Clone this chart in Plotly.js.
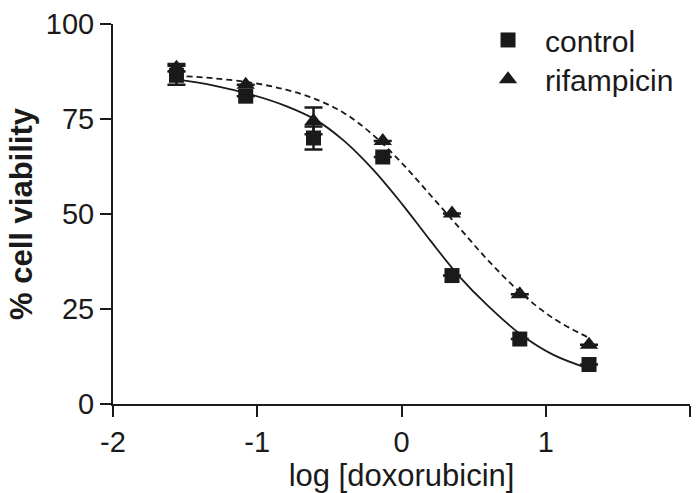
<!DOCTYPE html>
<html>
<head>
<meta charset="utf-8">
<script src="https://cdn.plot.ly/plotly-3.0.1.min.js"></script>
<style>html,body{margin:0;padding:0;background:#fff;}#chart{width:698px;height:493px;}</style>
</head>
<body>
<div id="chart"></div>
<script>
// measured points: log [doxorubicin]
var logDose = [-1.56, -1.08, -0.61, -0.13, 0.35, 0.82, 1.30];
var controlY = [86.5, 81.0, 70.0, 65.0, 33.8, 17.1, 10.4];
var controlErr = [2.5, null, 3.0, null, null, null, null];
var rifampicinY = [88.5, 84.0, 74.5, 69.2, 50.1, 28.9, 15.6];
var rifampicinErr = [1.0, null, 3.5, null, null, null, null];

// fitted curves
var fitX = [-1.56, -1.3, -1.03, -0.8, -0.6, -0.4, -0.2, 0, 0.2, 0.4, 0.6, 0.82, 1.05, 1.30];
var controlFit = [85.4, 83.8, 81.3, 78.4, 74.9, 69.3, 61.8, 52.8, 43.0, 33.6, 25.8, 18.5, 13.0, 9.3];
var rifampicinFit = [86.4, 85.7, 84.5, 82.7, 80.3, 76.6, 70.9, 63.5, 55.0, 46.4, 37.8, 29.5, 22.6, 17.4];

var xTickVals = [-2, -1, 0, 1, 2];
var xTickText = ['-2', '-1', '0', '1', '2'];
var yTickVals = [0, 25, 50, 75, 100];
var yTickText = ['0', '25', '50', '75', '100'];

var FONT = 'Liberation Sans, Arial, Helvetica, sans-serif';
var INK = '#1a1a1a';

var traces = [
  {x: fitX, y: controlFit, mode: 'lines', line: {color: INK, width: 1.8, shape: 'spline', smoothing: 1},
   showlegend: false, hoverinfo: 'skip'},
  {x: fitX, y: rifampicinFit, mode: 'lines', line: {color: INK, width: 1.8, dash: '6px,4px', shape: 'spline', smoothing: 1},
   showlegend: false, hoverinfo: 'skip'},
  {x: logDose, y: controlY, name: 'control', mode: 'markers', legend: 'legend',
   marker: {symbol: 'square', size: 15, color: INK},
   error_y: {type: 'data', array: controlErr, visible: true, color: INK, thickness: 2.5, width: 9},
   cliponaxis: false},
  {x: logDose, y: rifampicinY, name: 'rifampicin', mode: 'markers', legend: 'legend2',
   marker: {symbol: 'triangle-up', size: 16, color: INK},
   error_y: {type: 'data', array: rifampicinErr, visible: true, color: INK, thickness: 2.5, width: 9},
   cliponaxis: false}
];

var legendStyle = function (yPos) {
  return {
    x: 0.6205, y: yPos, xanchor: 'left', yanchor: 'middle',
    itemwidth: 64,
    font: {family: FONT, size: 30, color: INK},
    bgcolor: 'rgba(0,0,0,0)'
  };
};

var layout = {
  width: 698, height: 493,
  margin: {l: 113, r: 8, t: 24, b: 89},
  paper_bgcolor: '#fff', plot_bgcolor: '#fff',
  font: {family: FONT, color: INK, size: 20},
  xaxis: {
    range: [-2, 2], tickvals: xTickVals, ticktext: xTickText,
    showline: true, linecolor: INK, linewidth: 2,
    ticks: 'outside', ticklen: 11, tickwidth: 2, tickcolor: INK,
    showgrid: false, zeroline: false,
    tickfont: {family: FONT, size: 29, color: INK},
    title: {text: 'log [doxorubicin]', font: {family: FONT, size: 31, color: INK}, standoff: 0}
  },
  yaxis: {
    range: [0, 100], tickvals: yTickVals, ticktext: yTickText,
    showline: true, linecolor: INK, linewidth: 2,
    ticks: 'outside', ticklen: 11, tickwidth: 2, tickcolor: INK,
    showgrid: false, zeroline: false,
    tickfont: {family: FONT, size: 29, color: INK},
    title: {text: '<b>% cell viability</b>', font: {family: FONT, size: 31, color: INK}, standoff: 4}
  },
  legend: legendStyle(0.958),
  legend2: legendStyle(0.8546),
  showlegend: true
};

Plotly.newPlot('chart', traces, layout, {staticPlot: true, displayModeBar: false});
</script>
</body>
</html>
